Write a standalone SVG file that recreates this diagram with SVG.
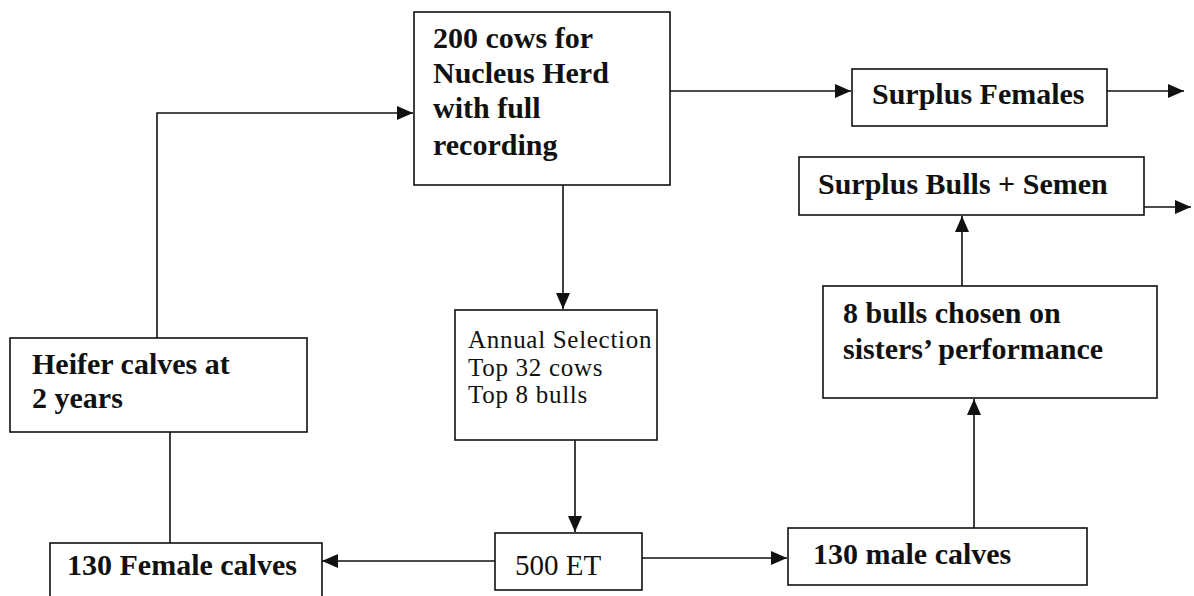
<svg xmlns="http://www.w3.org/2000/svg" width="1194" height="596" viewBox="0 0 1194 596">
<style>
.box{fill:#fff;stroke:#111;stroke-width:1.6}
.t{font-family:"Liberation Serif","Times New Roman",serif;font-size:30px;fill:#111;font-weight:bold}
.r{font-family:"Liberation Serif","Times New Roman",serif;font-size:29px;fill:#111}
.s{font-family:"Liberation Serif","Times New Roman",serif;font-size:25px;letter-spacing:0.7px;fill:#111}
.c{fill:none;stroke:#111;stroke-width:1.6}
</style>
<defs>
<marker id="ah" viewBox="0 0 16 14" refX="16" refY="7" markerWidth="16" markerHeight="14" markerUnits="userSpaceOnUse" orient="auto">
<path d="M0,0 L16,7 L0,14 Z" fill="#111"/>
</marker>
</defs>
<rect width="1194" height="596" fill="#fff"/>
<g id="connectors">
<path class="c" d="M157,338 V113 H413" marker-end="url(#ah)"/>
<path class="c" d="M670,91 H851" marker-end="url(#ah)"/>
<path class="c" d="M1107,91 H1184" marker-end="url(#ah)"/>
<path class="c" d="M1144,207 H1191" marker-end="url(#ah)"/>
<path class="c" d="M563,185 V309" marker-end="url(#ah)"/>
<path class="c" d="M575,440 V532" marker-end="url(#ah)"/>
<path class="c" d="M170,432 V543"/>
<path class="c" d="M495,561 H322" marker-end="url(#ah)"/>
<path class="c" d="M642,558 H787" marker-end="url(#ah)"/>
<path class="c" d="M974,528 V399" marker-end="url(#ah)"/>
<path class="c" d="M962,286 V216" marker-end="url(#ah)"/>
</g>
<g id="nucleus">
<rect class="box" x="414" y="12" width="256" height="173"/>
<text class="t" x="433" y="48">200 cows for</text>
<text class="t" x="433" y="83">Nucleus Herd</text>
<text class="t" x="433" y="118">with full</text>
<text class="t" x="433" y="155">recording</text>
</g>
<g id="surplus-females">
<rect class="box" x="852" y="69" width="255" height="57"/>
<text class="t" x="872" y="104">Surplus Females</text>
</g>
<g id="surplus-bulls">
<rect class="box" x="799" y="157" width="345" height="58"/>
<text class="t" x="818" y="194">Surplus Bulls + Semen</text>
</g>
<g id="annual-selection">
<rect class="box" x="455" y="310" width="202" height="130"/>
<text class="s" x="468" y="348">Annual Selection</text>
<text class="s" x="468" y="376">Top 32 cows</text>
<text class="s" x="468" y="403">Top 8 bulls</text>
</g>
<g id="heifer">
<rect class="box" x="10" y="338" width="297" height="94"/>
<text class="t" x="32" y="374">Heifer calves at</text>
<text class="t" x="32" y="408">2 years</text>
</g>
<g id="eight-bulls">
<rect class="box" x="823" y="286" width="334" height="112"/>
<text class="t" x="843" y="323">8 bulls chosen on</text>
<text class="t" x="843" y="359">sisters’ performance</text>
</g>
<g id="female-calves">
<rect class="box" x="50" y="543" width="272" height="60"/>
<text class="t" x="67" y="575">130 Female calves</text>
</g>
<g id="et">
<rect class="box" x="495" y="533" width="147" height="57"/>
<text class="r" x="515" y="575">500 ET</text>
</g>
<g id="male-calves">
<rect class="box" x="788" y="528" width="299" height="57"/>
<text class="t" x="813" y="564">130 male calves</text>
</g>
</svg>
